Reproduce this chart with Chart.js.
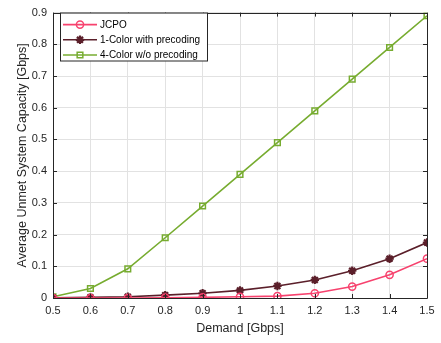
<!DOCTYPE html>
<html><head><meta charset="utf-8">
<script src="https://cdn.jsdelivr.net/npm/chart.js@4/dist/chart.umd.min.js"></script>
<style>html,body{margin:0;padding:0;background:#fff}#wrap{width:441px;height:343px;position:relative}</style>
</head><body><div id="wrap"><canvas id="c" width="441" height="343"></canvas></div>
<script>
const demand = [0.5, 0.6, 0.7, 0.8, 0.9, 1.0, 1.1, 1.2, 1.3, 1.4, 1.5];
const jcpo = [0.000, 0.000, 0.000, 0.001, 0.002, 0.004, 0.006, 0.015, 0.036, 0.073, 0.124];
const oneColor = [0.001, 0.002, 0.004, 0.009, 0.015, 0.024, 0.038, 0.057, 0.086, 0.124, 0.175];
const fourColor = [0.004, 0.030, 0.092, 0.190, 0.290, 0.390, 0.490, 0.590, 0.690, 0.790, 0.890];
const seriesNames = ['JCPO', '1-Color with precoding', '4-Color w/o precoding'];
const xTicks = [0.5, 0.6, 0.7, 0.8, 0.9, 1.0, 1.1, 1.2, 1.3, 1.4, 1.5];
const yTicks = [0, 0.1, 0.2, 0.3, 0.4, 0.5, 0.6, 0.7, 0.8, 0.9];
const xTitle = 'Demand [Gbps]';
const yTitle = 'Average Unmet System Capacity [Gbps]';

const colors = ['#F7426E', '#5B1F2A', '#77AC30'];
const styles = ['circle', 'star', 'rect'];
const AX = '#262626';
const FONT = "'Liberation Sans', Arial, Helvetica, sans-serif";

function mk(name, data, i) {
  const isStar = i === 1;
  return {
    label: name,
    data: demand.map((x, k) => ({x: x, y: data[k]})),
    borderColor: colors[i],
    backgroundColor: isStar ? colors[i] : 'rgba(0,0,0,0)',
    borderWidth: 1.6,
    pointStyle: styles[i],
    pointRadius: i === 0 ? 3.6 : (i === 1 ? 4.2 : 4),
    pointBorderWidth: isStar ? 2.2 : 1.5,
    pointBackgroundColor: isStar ? colors[i] : 'rgba(0,0,0,0)',
    pointBorderColor: colors[i],
    tension: 0
  };
}

const frame = {
  id: 'frame',
  afterDatasetsDraw(chart) {
    const ctx = chart.ctx, a = chart.chartArea;
    const xs = chart.scales.x, ys = chart.scales.y;
    ctx.save();
    ctx.strokeStyle = AX; ctx.lineWidth = 1;
    ctx.beginPath();
    ctx.rect(Math.round(a.left) + 0.5, Math.round(a.top) + 0.5, Math.round(a.right - a.left), Math.round(a.bottom - a.top));
    ctx.stroke();
    const L = 4;
    ctx.beginPath();
    xTicks.forEach(v => {
      const px = Math.round(xs.getPixelForValue(v)) + 0.5;
      ctx.moveTo(px, a.bottom); ctx.lineTo(px, a.bottom - L);
      ctx.moveTo(px, a.top); ctx.lineTo(px, a.top + L);
    });
    yTicks.forEach(v => {
      const py = Math.round(ys.getPixelForValue(v)) + 0.5;
      ctx.moveTo(a.left, py); ctx.lineTo(a.left + L, py);
      ctx.moveTo(a.right, py); ctx.lineTo(a.right - L, py);
    });
    ctx.stroke();
    ctx.restore();
  },
  afterDraw(chart) {
    const ctx = chart.ctx, a = chart.chartArea;
    const bx = a.left + 7, by = a.top + 0.5, bw = 147, bh = 48;
    ctx.save();
    ctx.fillStyle = '#fff';
    ctx.fillRect(bx, by, bw, bh);
    ctx.strokeStyle = AX; ctx.lineWidth = 1;
    ctx.strokeRect(Math.round(bx) + 0.5, Math.round(by), bw, bh);
    ctx.font = '10px ' + FONT;
    ctx.textBaseline = 'middle';
    chart.data.datasets.forEach((ds, i) => {
      const y = by + 11.5 + i * 15.2;
      ctx.strokeStyle = ds.borderColor; ctx.lineWidth = ds.borderWidth;
      ctx.beginPath(); ctx.moveTo(bx + 3, y); ctx.lineTo(bx + 37, y); ctx.stroke();
      ctx.fillStyle = ds.pointBackgroundColor; ctx.strokeStyle = ds.pointBorderColor; ctx.lineWidth = ds.pointBorderWidth;
      Chart.helpers.drawPoint(ctx, {pointStyle: ds.pointStyle, radius: ds.pointRadius, borderWidth: ds.pointBorderWidth}, bx + 20, y);
      ctx.fillStyle = '#000';
      ctx.fillText(ds.label, bx + 40, y + 0.5);
    });
    ctx.restore();
  }
};

new Chart(document.getElementById('c'), {
  type: 'line',
  data: {
    datasets: [mk(seriesNames[0], jcpo, 0), mk(seriesNames[1], oneColor, 1), mk(seriesNames[2], fourColor, 2)]
  },
  options: {
    responsive: false,
    animation: false,
    devicePixelRatio: 1,
    layout: {padding: {top: 4, right: 14, left: 0, bottom: 0}},
    plugins: {legend: {display: false}, tooltip: {enabled: false}},
    scales: {
      x: {
        type: 'linear', min: 0.5, max: 1.5,
        afterBuildTicks: s => { s.ticks = xTicks.map(v => ({value: v})); },
        afterFit: s => { s.height = 45; },
        grid: {color: '#e2e2e2', drawTicks: false},
        border: {display: false},
        ticks: {padding: 6, color: AX, font: {family: FONT, size: 11}, maxRotation: 0,
          callback: v => String(Math.round(v * 10) / 10)},
        title: {display: true, text: xTitle, color: AX, font: {family: FONT, size: 12.5}, padding: {top: 7, bottom: 7}}
      },
      y: {
        type: 'linear', min: 0, max: 0.9,
        afterBuildTicks: s => { s.ticks = yTicks.map(v => ({value: v})); },
        afterFit: s => { s.width = 53; },
        grid: {color: '#e2e2e2', drawTicks: false},
        border: {display: false},
        ticks: {padding: 6, color: AX, font: {family: FONT, size: 11},
          callback: v => String(Math.round(v * 10) / 10)},
        title: {display: true, text: yTitle, color: AX, font: {family: FONT, size: 12.5}, padding: {top: 15, bottom: 15}}
      }
    }
  },
  plugins: [frame]
});
</script>
</body></html>
